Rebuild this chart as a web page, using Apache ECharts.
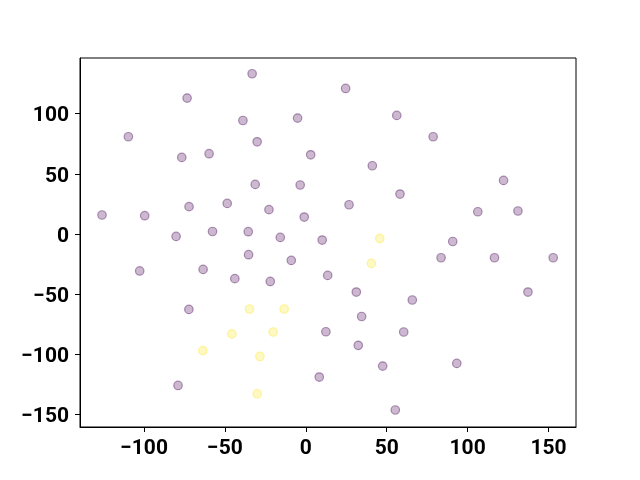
<!DOCTYPE html>
<html>
<head>
<meta charset="utf-8">
<script src="https://cdn.jsdelivr.net/npm/echarts@6/dist/echarts.min.js"></script>
<style>
  html, body { margin: 0; padding: 0; background: #fff; }
  #main { width: 640px; height: 480px; }
</style>
</head>
<body>
<div id="main"></div>
<script>
// class 0 points (purple)
var purple_x = [-33.2, -73.4, 24.6, -109.7, -38.9, -5.1, 56.2, -30.1, 78.7, -76.7,
    -59.8, 3.0, 41.1, 122.2, -31.3, -3.5, 58.2, -126.0, -99.6, -72.2,
    -48.6, -22.8, -1.0, 26.7, 106.3, 131.1, -80.2, -57.7, -35.6, -15.8,
    10.1, 90.8, 83.6, 116.6, 152.9, -102.7, -63.5, -35.4, -43.9, -22.0,
    -9.0, 13.5, 31.2, 65.8, 137.3, -72.3, 34.5, 12.4, 60.5, 32.4,
    93.3, 47.5, 8.3, -79.0, 55.3];
var purple_y = [133.2, 113.0, 121.0, 80.9, 94.4, 96.4, 98.6, 76.7, 80.9, 63.7,
    66.8, 65.9, 56.8, 44.6, 41.3, 40.8, 33.3, 15.9, 15.3, 22.8,
    25.5, 20.3, 14.2, 24.4, 18.6, 19.2, -1.9, 2.2, 2.0, -2.7,
    -4.9, -6.1, -19.6, -19.6, -19.6, -30.6, -29.3, -17.1, -37.0, -39.3,
    -21.8, -34.3, -48.1, -54.7, -48.1, -62.5, -68.4, -81.1, -81.3, -92.4,
    -107.4, -109.6, -118.7, -125.7, -146.1];
// class 1 points (yellow)
var yellow_x = [45.7, 40.5, -34.8, -13.4, -45.7, -20.2, -63.7, -28.4, -30.1];
var yellow_y = [-3.6, -24.3, -62.2, -62.2, -82.9, -81.3, -96.8, -101.6, -132.6];

var x_ticks = [-100, -50, 0, 50, 100, 150];
var y_ticks = [-150, -100, -50, 0, 50, 100];

function pairs(xs, ys) {
    var out = [];
    for (var i = 0; i < xs.length; i++) {
        out.push([xs[i], ys[i]]);
    }
    return out;
}

function minus_fmt(v) {
    return '{t|' + String(v).replace('-', '\u2212') + '}';
}

var tick_font = {
    fontFamily: 'Roboto',
    fontWeight: 'bold',
    fontSize: 21,
    color: '#000'
};

var chart = echarts.init(document.getElementById('main'), null, { renderer: 'canvas' });

chart.setOption({
    animation: false,
    backgroundColor: '#fff',
    grid: {
        left: 80, top: 58, width: 496, height: 369,
        show: true, borderColor: '#000', borderWidth: 1, backgroundColor: 'transparent'
    },
    xAxis: {
        type: 'value', min: -139.6, max: 167.0,
        axisLine: { show: true, onZero: false, lineStyle: { color: '#000', width: 1 } },
        splitLine: { show: false },
        axisTick: { show: true, length: 5, lineStyle: { color: '#000', width: 1 }, customValues: x_ticks },
        axisLabel: {
            margin: 9, customValues: x_ticks, formatter: minus_fmt,
            rich: { t: Object.assign({ padding: [2, 0, 0, 0] }, tick_font) }
        }
    },
    yAxis: {
        type: 'value', min: -160.2, max: 146.3,
        axisLine: { show: true, onZero: false, lineStyle: { color: '#000', width: 1 } },
        splitLine: { show: false },
        axisTick: { show: true, length: 5, lineStyle: { color: '#000', width: 1 }, customValues: y_ticks },
        axisLabel: {
            margin: 11, customValues: y_ticks, formatter: minus_fmt,
            rich: { t: Object.assign({ padding: [5, 0, 0, 0] }, tick_font) }
        }
    },
    series: [
        {
            type: 'scatter',
            data: pairs(purple_x, purple_y),
            symbolSize: 8.5,
            itemStyle: { color: 'rgba(68,1,84,0.34)', borderColor: 'rgba(68,1,84,0.5)', borderWidth: 1.2 }
        },
        {
            type: 'scatter',
            data: pairs(yellow_x, yellow_y),
            symbolSize: 8.5,
            itemStyle: { color: 'rgba(253,231,37,0.34)', borderColor: 'rgba(253,231,37,0.5)', borderWidth: 1.2 }
        }
    ]
});
</script>
</body>
</html>
